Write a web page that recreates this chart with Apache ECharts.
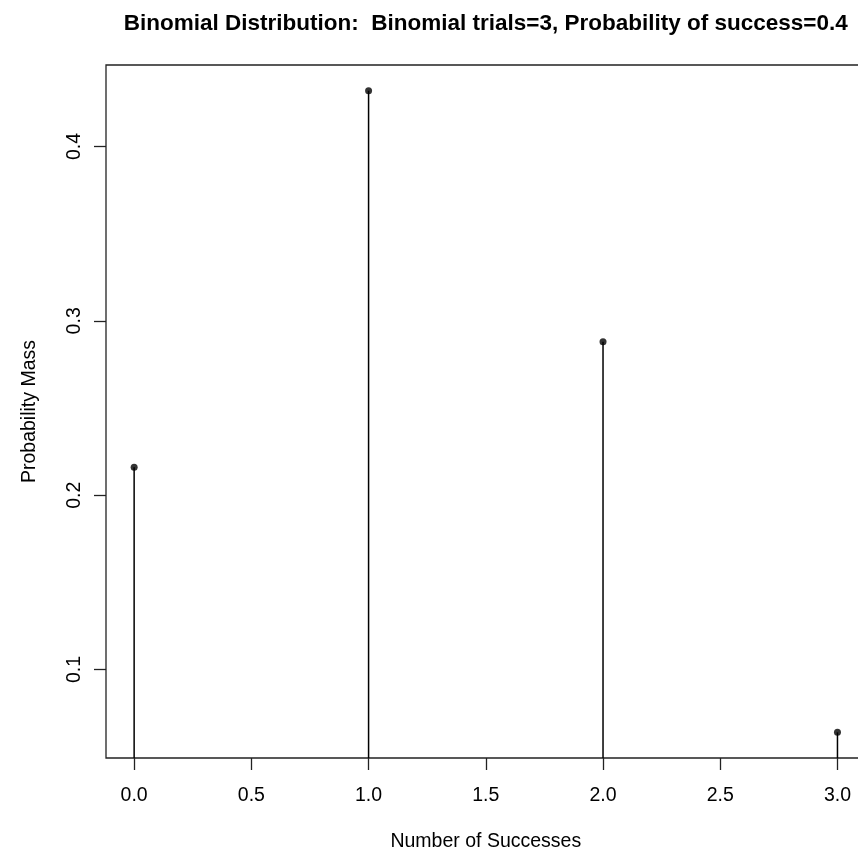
<!DOCTYPE html>
<html>
<head>
<meta charset="utf-8">
<script src="https://cdn.jsdelivr.net/npm/echarts@6/dist/echarts.min.js"></script>
<style>html,body{margin:0;padding:0;background:#fff;}#c{width:858px;height:850px;}</style>
</head>
<body>
<div id="c"></div>
<script>
var successes = [0, 1, 2, 3];
var probMass = [0.216, 0.432, 0.288, 0.064];
var xTicks = [0, 0.5, 1, 1.5, 2, 2.5, 3];
var yTicks = [0.1, 0.2, 0.3, 0.4];

var yMin = 0.04928, yMax = 0.44672;
var xMin = -0.12, xMax = 3.12;

var stemData = successes.map(function (x, i) { return [x, probMass[i]]; });
var font = 'Liberation Sans, Arial, sans-serif';

var chart = echarts.init(document.getElementById('c'), null, { renderer: 'canvas' });
chart.setOption({
  animation: false,
  backgroundColor: '#fff',
  title: {
    text: 'Binomial Distribution:  Binomial trials=3, Probability of success=0.4',
    left: 480.8, top: 7, textAlign: 'center',
    textStyle: { fontFamily: font, fontSize: 22.5, fontWeight: 'bold', color: '#000' }
  },
  grid: { left: 106, top: 65, height: 693, width: 759.6, show: true, borderColor: '#222', borderWidth: 1.3,
    backgroundColor: 'transparent', containLabel: false, outerBoundsMode: 'none' },
  xAxis: {
    type: 'value', min: xMin, max: xMax,
    name: 'Number of Successes', nameLocation: 'middle', nameGap: 73.5,
    nameTextStyle: { fontFamily: font, fontSize: 19.5, color: '#000' },
    axisLine: { show: false, onZero: false },
    splitLine: { show: false },
    axisTick: { show: true, length: 12, lineStyle: { color: '#222', width: 1.3 }, customValues: xTicks },
    axisLabel: { margin: 27.5, fontFamily: font, fontSize: 19.5, color: '#000', customValues: xTicks,
      formatter: function (v) { return v.toFixed(1); } }
  },
  yAxis: {
    type: 'value', min: yMin, max: yMax,
    name: 'Probability Mass', nameLocation: 'middle', nameGap: 66.5, nameRotate: 90,
    nameTextStyle: { fontFamily: font, fontSize: 19.5, color: '#000' },
    axisLine: { show: false, onZero: false },
    splitLine: { show: false },
    axisTick: { show: true, length: 12, lineStyle: { color: '#222', width: 1.3 }, customValues: yTicks },
    axisLabel: { margin: 21.5, rotate: 90, fontFamily: font, fontSize: 19.5, color: '#000', customValues: yTicks,
      formatter: function (v) { return v.toFixed(1); } }
  },
  series: [
    {
      type: 'custom',
      clip: true,
      data: stemData,
      renderItem: function (params, api) {
        var top = api.coord([api.value(0), api.value(1)]);
        var bot = api.coord([api.value(0), 0]);
        return {
          type: 'line',
          shape: { x1: top[0], y1: top[1], x2: bot[0], y2: bot[1] },
          style: { stroke: '#000', lineWidth: 1.5 }
        };
      },
      z: 2
    },
    {
      type: 'scatter',
      data: stemData,
      symbol: 'circle', symbolSize: 7,
      itemStyle: { color: '#000' },
      z: 3
    }
  ]
});
</script>
</body>
</html>
